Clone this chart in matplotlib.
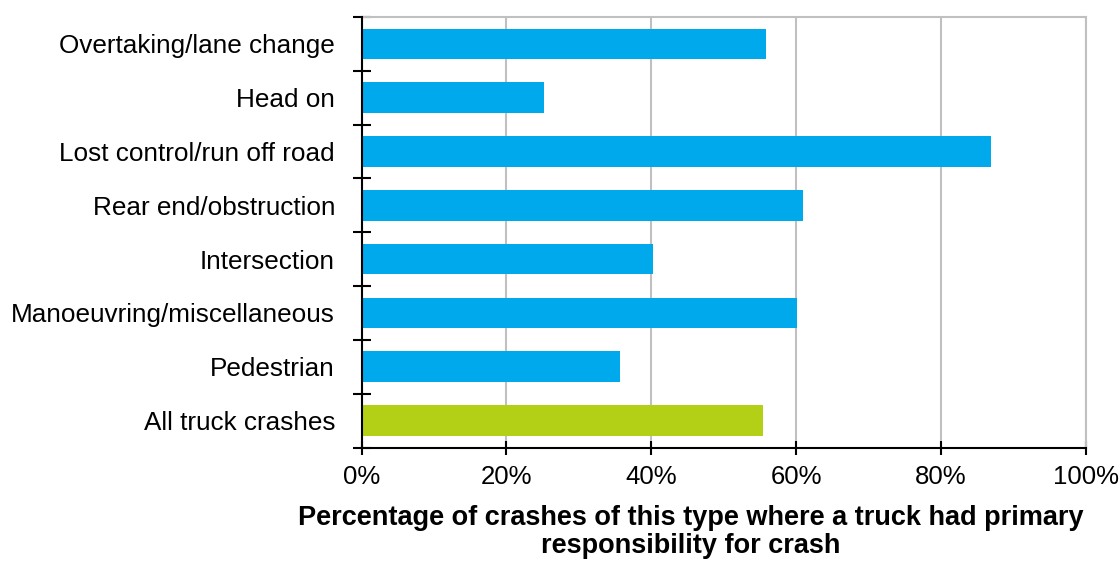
import matplotlib.pyplot as plt

# Anteil der Unfälle mit Hauptverantwortung beim LKW, je Unfalltyp
categories = [
    "Overtaking/lane change",
    "Head on",
    "Lost control/run off road",
    "Rear end/obstruction",
    "Intersection",
    "Manoeuvring/miscellaneous",
    "Pedestrian",
    "All truck crashes",
]
values = [55.8, 25.2, 86.9, 61.0, 40.2, 60.1, 35.7, 55.4]
colors = ["#00A9EC"] * 7 + ["#B3CF16"]
xticks = [0, 20, 40, 60, 80, 100]
xlabel_lines = [
    "Percentage of crashes of this type where a truck had primary",
    "responsibility for crash",
]

plt.rcParams["font.family"] = ["Liberation Sans", "DejaVu Sans"]

W, H = 1120, 562
fig = plt.figure(figsize=(W / 100, H / 100), dpi=100)
ax = fig.add_axes([361.5 / W, 1 - 447.5 / H, (1086 - 361.5) / W, (447.5 - 17) / H])

pos = list(range(len(categories)))
ax.barh(pos, values, height=0.57, color=colors, zorder=3)
ax.set_ylim(len(categories) - 0.5, -0.5)
ax.set_xlim(0, 100)

# Kategorien-Beschriftung ohne Ticks, Ticks an den Grenzen
ax.set_yticks(pos)
ax.set_yticklabels(categories, fontsize=18.8)
ax.tick_params(axis="y", length=0, pad=19)
ax.set_yticks([p - 0.5 for p in pos] + [len(pos) - 0.5], minor=True)
ax.tick_params(axis="y", which="minor", length=13.3, width=1.5, direction="inout")

ax.set_xticks(xticks)
ax.set_xticklabels([f"{t}%" for t in xticks], fontsize=18.5)
ax.tick_params(axis="x", length=9.5, width=1.5, direction="inout", pad=8)

ax.grid(axis="x", color="#C0C0C0", linewidth=1.5, zorder=0)
ax.set_axisbelow(True)
for side in ["top", "right"]:
    ax.spines[side].set_color("#C0C0C0")
    ax.spines[side].set_linewidth(1.5)
for side in ["left", "bottom"]:
    ax.spines[side].set_color("black")
    ax.spines[side].set_linewidth(1.5)
    ax.spines[side].set_zorder(4)

# Achsentitel in zwei Zeilen, etwas links von der Achsenmitte
for line, y in zip(xlabel_lines, [525, 553]):
    fig.text(690.5 / W, 1 - y / H, line, ha="center", va="baseline",
             fontsize=19.5, fontweight="bold")

plt.savefig("out.png", dpi=100)
